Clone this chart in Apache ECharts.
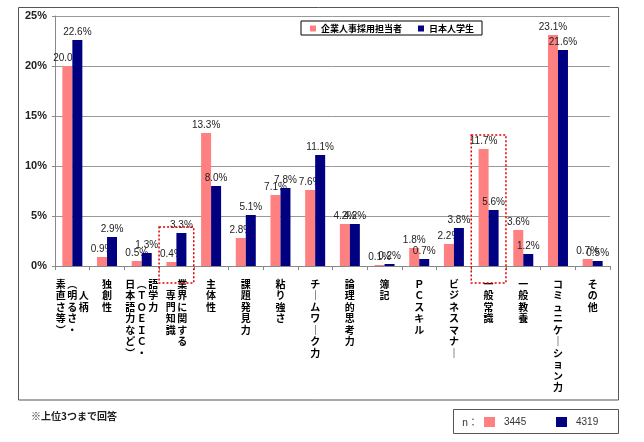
<!DOCTYPE html>
<html><head><meta charset="utf-8">
<script src="https://cdn.jsdelivr.net/npm/echarts@6/dist/echarts.min.js"></script>
<style>html,body{margin:0;padding:0;background:#fff}#c{width:644px;height:442px}</style>
</head><body><div id="c"></div>
<script>
const categories = ['人柄（明るさ・素直さ等）','独創性','語学力（TOEIC・日本語力など）','業界に関する専門知識','主体性','課題発見力','粘り強さ','チームワーク力','論理的思考力','簿記','PCスキル','ビジネスマナー','一般常識','一般教養','コミュニケーション力','その他'];
const seriesNames = ['企業人事採用担当者','日本人学生'];
const recruiters = [20.0,0.9,0.5,0.4,13.3,2.8,7.1,7.6,4.2,0.1,1.8,2.2,11.7,3.6,23.1,0.7];
const students   = [22.6,2.9,1.3,3.3,8.0,5.1,7.8,11.1,4.2,0.2,0.7,3.8,5.6,1.2,21.6,0.5];
const sampleSizes = [3445, 4319];
const yMin = 0, yMax = 25, yStep = 5;
const highlighted = ['業界に関する専門知識','一般常識'];
const highlightTop = [3.9, 13.1];
const footnote = '※上位3つまで回答';
// vertical label columns (right to left), with starting row offset
const labelColumns = {
  '人柄（明るさ・素直さ等）': [['人柄',1],['（明るさ・',0],['素直さ等）',0]],
  '語学力（TOEIC・日本語力など）': [['語学力',0],['（TOEIC・',0],['日本語力など）',0]],
  '業界に関する専門知識': [['業界に関する',0],['専門知識',1]]
};
const colors = ['#FF8080', '#000080'];

function vchar(ch){
  if (ch === '（') return '︵';
  if (ch === '）') return '︶';
  if (ch === 'ー') return '｜';
  const c = ch.charCodeAt(0);
  if (c >= 0x21 && c <= 0x7e) return String.fromCharCode(c + 0xFEE0);
  return ch;
}
function verticalLabel(name){
  const cols = labelColumns[name] || [[name,0]];
  const colsLR = cols.slice().reverse();
  let n = 0;
  colsLR.forEach(([s,o]) => { n = Math.max(n, o + Array.from(s).length); });
  const lines = [];
  for (let r = 0; r < n; r++){
    lines.push(colsLR.map(([s,o]) => {
      const arr = Array.from(s);
      const ch = (r - o >= 0 && r - o < arr.length) ? vchar(arr[r - o]) : '　';
      return '{c|' + ch + '}';
    }).join(''));
  }
  return lines.join('\n');
}

const chart = echarts.init(document.getElementById('c'));
const numFont = "'Liberation Sans', Arial, sans-serif";
const jpFont = "'Noto Sans CJK JP', sans-serif";

function barSeries(i, data){
  return {
    name: seriesNames[i], type: 'bar', data: data, z: 2 + i,
    barWidth: 10, barGap: '0%',
    itemStyle: { color: colors[i] },
    label: { show: true, position: 'top', distance: 3, color: '#222', fontSize: 10, fontFamily: numFont,
      formatter: p => p.value.toFixed(1) + '%' }
  };
}

chart.setOption({
  animation: false,
  backgroundColor: '#fff',
  grid: { left: 55, right: 34, top: 16, bottom: 176, containLabel: false },
  legend: {
    left: 301, top: 21, orient: 'horizontal',
    data: seriesNames.map(n => ({ name: n, icon: 'rect' })),
    itemWidth: 6, itemHeight: 6, itemGap: 16,
    padding: [3, 8, 2, 9], borderColor: '#000', borderWidth: 1,
    textStyle: { fontSize: 9, fontWeight: 'bold', fontFamily: jpFont, color: '#000' }
  },
  xAxis: {
    type: 'category', data: categories,
    axisLine: { lineStyle: { color: '#888' } },
    axisTick: { show: true, length: 4, lineStyle: { color: '#888' } },
    axisLabel: {
      interval: 0, margin: 12, formatter: v => verticalLabel(v),
      rich: { c: { width: 11.5, align: 'center', fontSize: 10, lineHeight: 11.5, fontWeight: 'bold', fontFamily: jpFont, color: '#000' } }
    }
  },
  yAxis: {
    type: 'value', min: yMin, max: yMax, interval: yStep,
    axisLine: { show: true, lineStyle: { color: '#888' } },
    axisTick: { show: true, length: 3, lineStyle: { color: '#888' } },
    splitLine: { lineStyle: { color: '#999', width: 1 } },
    axisLabel: { formatter: '{value}%', margin: 8, fontSize: 11, fontWeight: 'bold', fontFamily: numFont, color: '#222' }
  },
  series: [barSeries(0, recruiters), barSeries(1, students)]
});

// annotations
const p0 = chart.convertToPixel({ gridIndex: 0 }, [0, 0]);
const p1 = chart.convertToPixel({ gridIndex: 0 }, [1, 0]);
const half = (p1[0] - p0[0]) / 2;
const g = [];
g.push({ type: 'rect', silent: true, z: -10, shape: { x: 18.5, y: 7.5, width: 600, height: 392.5 },
  style: { fill: 'none', stroke: '#555', lineWidth: 1 } });
highlighted.forEach((name, k) => {
  const idx = categories.indexOf(name);
  const top = chart.convertToPixel({ gridIndex: 0 }, [idx, highlightTop[k]]);
  const bottomY = p0[1] + 17;
  g.push({ type: 'rect', silent: true, z: 100,
    shape: { x: top[0] - half, y: top[1], width: half * 2, height: bottomY - top[1] },
    style: { fill: 'none', stroke: '#E00000', lineWidth: 1.5, lineDash: [2, 2] } });
});
g.push({ type: 'text', silent: true, left: 31, top: 411,
  style: { text: footnote, fontSize: 10, fontWeight: 'bold', fontFamily: jpFont, fill: '#222' } });
g.push({ type: 'rect', silent: true, shape: { x: 453.5, y: 409.5, width: 165, height: 24 },
  style: { fill: '#fff', stroke: '#555', lineWidth: 1 } });
g.push({ type: 'text', silent: true, x: 462, y: 422,
  style: { text: 'n：', fontSize: 10, fontFamily: jpFont, fill: '#333', verticalAlign: 'middle' } });
const sx = [484, 556];
sampleSizes.forEach((n, i) => {
  g.push({ type: 'rect', silent: true, shape: { x: sx[i], y: 417, width: 11, height: 10 }, style: { fill: colors[i] } });
  g.push({ type: 'text', silent: true, x: sx[i] + 20, y: 422,
    style: { text: String(n), fontSize: 10, fontFamily: numFont, fill: '#333', verticalAlign: 'middle' } });
});
chart.setOption({ graphic: g });
</script></body></html>
